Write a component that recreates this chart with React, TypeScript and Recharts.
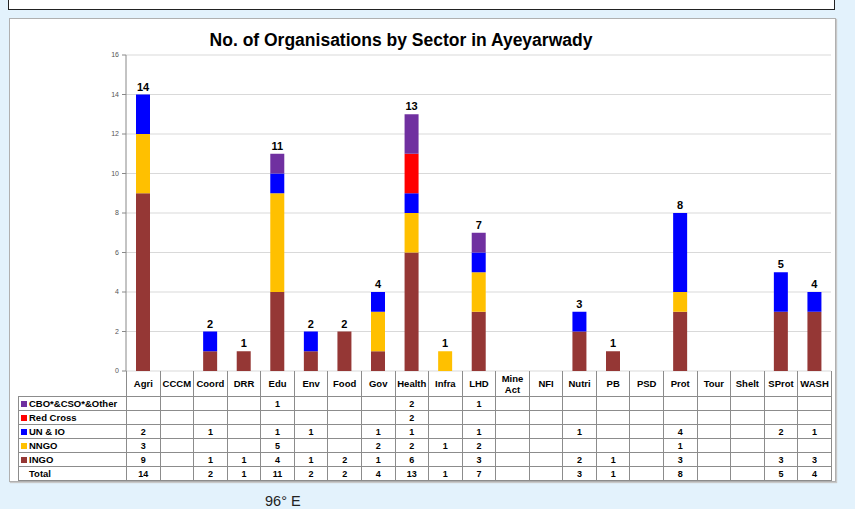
import React from "react";
import {
  BarChart,
  Bar,
  XAxis,
  YAxis,
  CartesianGrid,
  LabelList,
} from "recharts";

const categories = [
  "Agri", "CCCM", "Coord", "DRR", "Edu", "Env", "Food", "Gov", "Health", "Infra", "LHD",
  "Mine Act", "NFI", "Nutri", "PB", "PSD", "Prot", "Tour", "Shelt", "SProt", "WASH",
];

// values per sector, same order as categories
const ingo = [9, 0, 1, 1, 4, 1, 2, 1, 6, 0, 3, 0, 0, 2, 1, 0, 3, 0, 0, 3, 3];
const nngo = [3, 0, 0, 0, 5, 0, 0, 2, 2, 1, 2, 0, 0, 0, 0, 0, 1, 0, 0, 0, 0];
const unIo = [2, 0, 1, 0, 1, 1, 0, 1, 1, 0, 1, 0, 0, 1, 0, 0, 4, 0, 0, 2, 1];
const redCross = [0, 0, 0, 0, 0, 0, 0, 0, 2, 0, 0, 0, 0, 0, 0, 0, 0, 0, 0, 0, 0];
const cboOther = [0, 0, 0, 0, 1, 0, 0, 0, 2, 0, 1, 0, 0, 0, 0, 0, 0, 0, 0, 0, 0];

const yTicks = [0, 2, 4, 6, 8, 10, 12, 14, 16];

const series = [
  { key: "cbo", label: "CBO*&CSO*&Other", color: "#7030A0", values: cboOther },
  { key: "redCross", label: "Red Cross", color: "#FF0000", values: redCross },
  { key: "unIo", label: "UN & IO", color: "#0000FF", values: unIo },
  { key: "nngo", label: "NNGO", color: "#FFC000", values: nngo },
  { key: "ingo", label: "INGO", color: "#953735", values: ingo },
];

const totals = categories.map((_, i) => series.reduce((s, ser) => s + ser.values[i], 0));

const data = categories.map((name, i) => ({
  name,
  ingo: ingo[i],
  nngo: nngo[i],
  unIo: unIo[i],
  redCross: redCross[i],
  cbo: cboOther[i],
  total: totals[i],
}));

// key of the highest non-empty segment in a stack (series is ordered top first)
function topKey(d: any): string | undefined {
  return series.find((s) => d[s.key] > 0)?.key;
}

const FONT = "'Liberation Sans', Arial, sans-serif";
const PLOT_LEFT = 126;
const PLOT_RIGHT = 831;
const COL_W = (PLOT_RIGHT - PLOT_LEFT) / categories.length;
const GRID = "#8c8c8c";

const cell: React.CSSProperties = {
  border: `1px solid ${GRID}`,
  padding: 0,
  textAlign: "center",
  fontWeight: "bold",
  fontSize: 9,
  height: 13,
  lineHeight: "12px",
};

export default function App() {
  const bottomUp = [...series].reverse();
  return (
    <div
      style={{
        position: "absolute",
        left: 0,
        top: 0,
        width: 855,
        height: 509,
        background: "#E3F2FC",
        fontFamily: FONT,
        overflow: "hidden",
      }}
    >
      {/* box above, mostly cut off */}
      <div
        style={{
          position: "absolute",
          left: 8,
          top: -20,
          width: 825,
          height: 28,
          background: "#fff",
          border: "1px solid #222",
        }}
      />
      {/* chart panel */}
      <div
        style={{
          position: "absolute",
          left: 9,
          top: 18,
          width: 825,
          height: 462,
          background: "#fff",
          border: "1px solid #b0b0b0",
          boxShadow: "1px 1px 1px #c8c8c8",
        }}
      />
      <div
        style={{
          position: "absolute",
          left: 0,
          width: 802,
          top: 30,
          textAlign: "center",
          fontWeight: "bold",
          fontSize: 17.5,
          color: "#000",
        }}
      >
        No. of Organisations by Sector in Ayeyarwady
      </div>

      <div style={{ position: "absolute", left: 0, top: 0 }}>
        <BarChart
          width={855}
          height={380}
          data={data}
          margin={{ top: 55, right: 855 - PLOT_RIGHT, left: PLOT_LEFT - 30, bottom: 9 }}
          barSize={14}
        >
          <CartesianGrid vertical={false} stroke="#D9D9D9" />
          <XAxis dataKey="name" height={0} tick={false} tickLine={false} axisLine={{ stroke: "#888" }} />
          <YAxis
            width={30}
            domain={[0, 16]}
            ticks={yTicks}
            interval={0}
            tickSize={4}
            tickMargin={3}
            tick={{ fontSize: 7, fill: "#555", fontFamily: FONT }}
            axisLine={{ stroke: "#888" }}
            tickLine={{ stroke: "#888" }}
          />
          {bottomUp.map((s) => (
            <Bar key={s.key} dataKey={s.key} stackId="a" fill={s.color} isAnimationActive={false}>
              <LabelList
                dataKey={(d: any) => (topKey(d) === s.key ? d.total : "")}
                position="top"
                offset={4}
                style={{ fontSize: 11, fontWeight: "bold", fill: "#000", fontFamily: FONT }}
              />
            </Bar>
          ))}
        </BarChart>
      </div>

      {/* data table */}
      <table
        style={{
          position: "absolute",
          left: 18,
          top: 371,
          borderCollapse: "collapse",
          tableLayout: "fixed",
          width: PLOT_RIGHT - 18,
          fontFamily: FONT,
          color: "#000",
        }}
      >
        <colgroup>
          <col style={{ width: PLOT_LEFT - 18 }} />
          {categories.map((c) => (
            <col key={c} style={{ width: COL_W }} />
          ))}
        </colgroup>
        <tbody>
          <tr>
            <td style={{ padding: 0, height: 25 }} />
            {categories.map((c) => (
              <td
                key={c}
                style={{ ...cell, fontSize: 9.5, height: 24, lineHeight: "11px", borderTop: "none" }}
              >
                {c}
              </td>
            ))}
          </tr>
          {series.map((s) => (
            <tr key={s.key}>
              <td style={{ ...cell, textAlign: "left", fontSize: 9.5, paddingLeft: 2, whiteSpace: "nowrap" }}>
                <span
                  style={{
                    display: "inline-block",
                    width: 6,
                    height: 6,
                    background: s.color,
                    marginRight: 2,
                  }}
                />
                {s.label}
              </td>
              {s.values.map((v, i) => (
                <td key={i} style={cell}>
                  {v ? v : ""}
                </td>
              ))}
            </tr>
          ))}
          <tr>
            <td style={{ ...cell, textAlign: "left", fontSize: 9.5, paddingLeft: 10 }}>Total</td>
            {totals.map((v, i) => (
              <td key={i} style={cell}>
                {v ? v : ""}
              </td>
            ))}
          </tr>
        </tbody>
      </table>

      <div
        style={{
          position: "absolute",
          left: 265,
          top: 493,
          fontSize: 14.5,
          color: "#222",
        }}
      >
        96° E
      </div>
    </div>
  );
}
